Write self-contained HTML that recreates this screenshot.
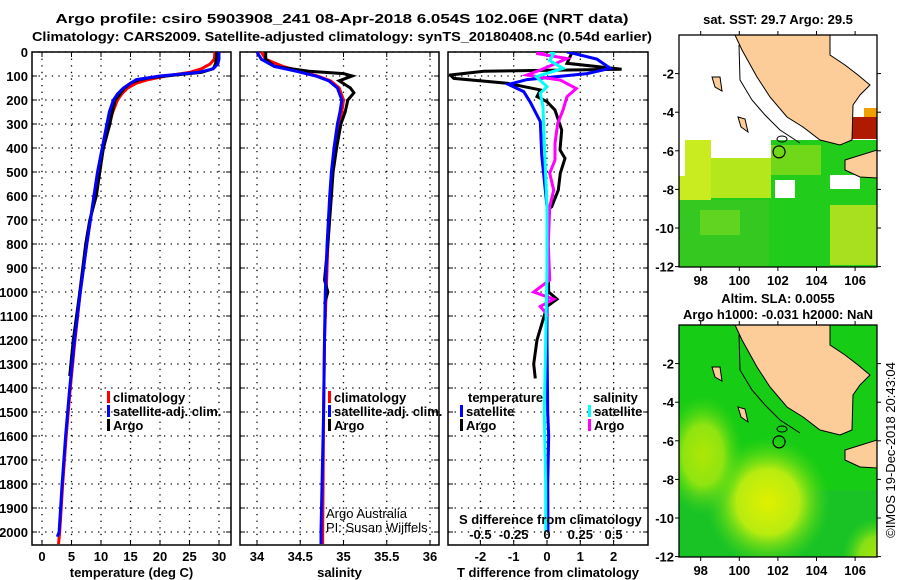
<!DOCTYPE html>
<html><head><meta charset="utf-8">
<style>
html,body{margin:0;padding:0;background:#fff;}
svg{display:block;font-family:"Liberation Sans",Arial,sans-serif;}
.t{font-weight:bold;font-size:13px;}
.tk{font-weight:bold;font-size:13px;}
</style></head>
<body>
<svg id="chart" width="900" height="580" viewBox="0 0 900 580" xmlns="http://www.w3.org/2000/svg">
<text class="t" x="342" y="23" text-anchor="middle" font-size="14" textLength="573" lengthAdjust="spacingAndGlyphs">Argo profile: csiro 5903908_241 08-Apr-2018 6.054S 102.06E (NRT data)</text>
<text class="t" x="342" y="41" text-anchor="middle" font-size="14" textLength="620" lengthAdjust="spacingAndGlyphs">Climatology: CARS2009. Satellite-adjusted climatology: synTS_20180408.nc (0.54d earlier)</text>
<g id="p1"></g>
<g id="p2"></g>
<g id="p3"></g>
<g id="m1"></g>
<g id="m2"></g>
<text x="0" y="0" font-size="13" transform="translate(895,450) rotate(-90)" text-anchor="middle">©IMOS 19-Dec-2018 20:43:04</text>
</svg>
<script>
// ---- data ----
const depthTicks = [0,100,200,300,400,500,600,700,800,900,1000,1100,1200,1300,1400,1500,1600,1700,1800,1900,2000];
const tempTicks = [0,5,10,15,20,25,30];
const salTicks = [34,34.5,35,35.5,36];
const tdiffTicks = [-2,-1,0,1,2];
const sdiffTickLabels = ['-0.5','-0.25','0','0.25','0.5'];
const sdiffTicks = [-0.5,-0.25,0,0.25,0.5];

const climTDepth = [0,30,50,70,85,100,115,130,150,175,200,250,300,400,500,600,700,800,1000,1200,1400,1600,1800,2000,2050];
const climT = [29.3,29.2,28.5,27,25,21,18,16,14.5,13.5,12.8,12,11.4,10.4,9.6,8.9,8.2,7.6,6.5,5.6,4.8,4.1,3.5,3.0,2.8];
const satTDepth = [0,30,50,70,85,100,115,130,150,175,200,250,300,400,500,600,700,800,1000,1200,1400,1600,1800,2000,2020];
const satT = [30,30,29.8,29,26.5,20,16,15,13.8,12.8,12.1,11.4,11.0,10.2,9.4,8.8,8.2,7.6,6.5,5.5,4.7,4.0,3.4,2.9,2.6];
const argoTDepth = [0,20,50,70,85,95,105,115,130,150,175,200,250,300,400,500,600,700,800,1000,1200,1350];
const argoT = [29.6,29.6,29.4,29,27,23,19,16.5,15,14,13.2,12.4,11.9,11.5,10.4,9.8,9.2,8.1,7.4,6.4,5.3,4.7];

const climSDepth = [0,30,60,80,100,120,150,200,250,300,400,500,600,800,1000,1200,1500,2000,2050];
const climS = [34.05,34.1,34.3,34.5,34.7,34.85,34.95,35.0,34.98,34.95,34.9,34.87,34.85,34.82,34.8,34.78,34.77,34.76,34.76];
const satS = [34.0,34.05,34.2,34.45,34.68,34.83,34.93,34.98,34.96,34.93,34.89,34.86,34.84,34.81,34.79,34.78,34.77,34.74,34.74];
const argoSDepth = [0,30,60,80,90,100,120,150,170,200,250,300,400,500,600,800,950,1000,1050];
const argoS = [34.1,34.1,34.2,34.6,35.0,35.1,34.95,35.08,35.12,35.05,35.02,34.97,34.92,34.88,34.86,34.82,34.78,34.82,34.78];

const tdArgoDepth = [0,6,47,72,80,96,110,130,158,186,207,242,325,408,443,505,575,645,658,800,1000,1030,1060,1200,1300,1360];
const tdArgo = [0.7,0.74,0.6,2.24,-1.9,-2.9,-2.8,-1.2,-0.2,-0.3,0,0.24,0.44,0.39,0.54,0.4,0.34,0.14,0,0.02,0.05,0.3,0,-0.3,-0.4,-0.35];
const tdSatDepth = [0,6,30,68,90,115,135,165,210,290,430,575,645,900,1200,1500,1600,1800,2000];
const tdSat = [0.6,0.8,1.5,1.9,1.2,-0.6,-1.16,-0.7,-0.5,-0.2,-0.16,-0.05,0,0,0,0.02,0.05,0.02,0.03];
const sdArgoDepth = [0,6,27,47,75,96,117,152,186,242,297,380,450,505,575,645,800,950,1000,1030,1060,1100];
const sdArgo = [-0.02,-0.08,0.15,0.07,-0.05,-0.15,0.1,0.22,0.15,0.12,0.08,0.06,0.06,0.02,0.05,0.02,0.01,0.02,-0.1,0.05,-0.05,0.01];
const sdSatDepth = [0,6,36,68,103,145,172,228,380,645,900,1200,1500,1800,2000];
const sdSat = [0.02,0.05,0.02,0.12,-0.08,0,-0.05,-0.03,-0.02,0,0,-0.01,-0.02,-0.01,-0.01];

const argoLon = 102.06, argoLat = -6.054;
const mapLonTicks = [98,100,102,104,106];
const mapLatTicks = [-2,-4,-6,-8,-10,-12];

// ---- helpers ----
const NS='http://www.w3.org/2000/svg';
function mk(parent,tag,attrs,text){const e=document.createElementNS(NS,tag);for(const k in attrs)e.setAttribute(k,attrs[k]);if(text!==undefined)e.textContent=text;parent.appendChild(e);return e;}
const pTop=52, pBot=545;
const yD = d => pTop + d*0.24;

function panel(g,x0,x1,xs,xticks,xlabels,title,name){
  depthTicks.forEach(d=>{
    const l=mk(g,'line',{x1:x0,x2:x1,y1:yD(d),y2:yD(d),stroke:'#000','stroke-width':1.3,'stroke-dasharray':'1.3,5.3'});
    
    
    mk(g,'line',{x1:x0,x2:x0+5,y1:yD(d),y2:yD(d),stroke:'#000'});
    mk(g,'line',{x1:x1-5,x2:x1,y1:yD(d),y2:yD(d),stroke:'#000'});
  });
  xticks.forEach((v,i)=>{
    const x=xs(v);
    const l=mk(g,'line',{x1:x,x2:x,y1:pTop,y2:pBot,stroke:'#000','stroke-width':1.3,'stroke-dasharray':'1.3,5.3'});
    
    
    mk(g,'line',{x1:x,x2:x,y1:pBot,y2:pBot-5,stroke:'#000','stroke-width':1});
    mk(g,'line',{x1:x,x2:x,y1:pTop,y2:pTop+5,stroke:'#000','stroke-width':1});
    const t=mk(g,'text',{x:x,y:561,'text-anchor':'middle',class:'tk'},xlabels[i]);
    
    
  });
  const f=mk(g,'rect',{x:x0,y:pTop,width:x1-x0,height:pBot-pTop,fill:'none',stroke:'#000','stroke-width':1.5});
  
  
  const tt=mk(g,'text',{x:(x0+x1)/2,y:577,'text-anchor':'middle',class:'t'},title);
  
  
}
function line(g,xs,vals,depths,color,name,w){
  const pts=vals.map((v,i)=>xs(v).toFixed(1)+','+yD(depths[i]).toFixed(1)).join(' ');
  const p=mk(g,'polyline',{points:pts,fill:'none',stroke:color,'stroke-width':w||3,'stroke-linejoin':'miter'});
  
  
}
function legend(g,x,y,color,label,name){
  mk(g,'rect',{x:x,y:y-11,width:3,height:12,fill:color});
  const t=mk(g,'text',{x:x+6,y:y,class:'t'},label);
  
  
}

// ---- panel 1 ----
const g1=document.getElementById('p1');
const xT = v => 42 + v*5.9;
depthTicks.forEach(d=>{
  const t=mk(g1,'text',{x:28,y:yD(d)+5,'text-anchor':'end',class:'tk'},String(d));
  
  
});
panel(g1,32,231,xT,tempTicks,tempTicks.map(String),'temperature (deg C)','temperature');
line(g1,xT,climT,climTDepth,'#ff0000','climatology-temperature-line');
line(g1,xT,argoT,argoTDepth,'#000000','argo-temperature-line');
line(g1,xT,satT,satTDepth,'#0000ff','satellite-temperature-line');
legend(g1,107,402,'#ff0000','climatology','legend-climatology');
legend(g1,107,416,'#0000ff','satellite-adj. clim.','legend-satellite');
legend(g1,107,430,'#000000','Argo','legend-argo');

// ---- panel 2 ----
const g2=document.getElementById('p2');
const xS = v => 257 + (v-34)*86.5;
panel(g2,240,439,xS,salTicks,salTicks.map(String),'salinity','salinity');
line(g2,xS,climS,climSDepth,'#ff0000','climatology-salinity-line');
line(g2,xS,argoS,argoSDepth,'#000000','argo-salinity-line');
line(g2,xS,satS,climSDepth,'#0000ff','satellite-salinity-line');
legend(g2,328,402,'#ff0000','climatology','legend-climatology-s');
legend(g2,328,416,'#0000ff','satellite-adj. clim.','legend-satellite-s');
legend(g2,328,430,'#000000','Argo','legend-argo-s');
const cr1=mk(g2,'text',{x:326,y:518,'font-size':13},'Argo Australia');


const cr2=mk(g2,'text',{x:326,y:532,'font-size':13},'PI: Susan Wijffels');



// ---- panel 3 ----
const g3=document.getElementById('p3');
const xTd = v => 547 + v*33.3;
const xSd = v => 547 + v*133.2;
panel(g3,448,648,xTd,tdiffTicks,tdiffTicks.map(String),'T difference from climatology','tdiff');
const d3=mk(g3,'defs',{});
const cp=mk(d3,'clipPath',{id:'c3'});
mk(cp,'rect',{x:449,y:pTop,width:198,height:pBot-pTop});
const gl=mk(g3,'g',{'clip-path':'url(#c3)'});
line(gl,xTd,tdArgo,tdArgoDepth,'#000000','argo-tdiff-line');
line(gl,xTd,tdSat,tdSatDepth,'#0000ff','satellite-tdiff-line');
line(gl,xSd,sdArgo,sdArgoDepth,'#ff00ff','argo-sdiff-line');
line(gl,xSd,sdSat,sdSatDepth,'#00ffff','satellite-sdiff-line');
const lh1=mk(g3,'text',{x:468,y:402,class:'t'},'temperature');


legend(g3,460,416,'#0000ff','satellite','legend-t-satellite');
legend(g3,460,430,'#000000','Argo','legend-t-argo');
const lh2=mk(g3,'text',{x:593,y:402,class:'t'},'salinity');


legend(g3,588,416,'#00ffff','satellite','legend-s-satellite');
legend(g3,588,430,'#ff00ff','Argo','legend-s-argo');
const sat=mk(g3,'text',{x:459,y:524,class:'t'},'S difference from climatology');


sdiffTicks.forEach((v,i)=>{
  const t=mk(g3,'text',{x:xSd(v),y:539,'text-anchor':'middle',class:'tk'},sdiffTickLabels[i]);
  
  
});

// ---- maps ----
function mapBase(y0){
  const x0=679,x1=877,y1=y0+232;
  const lx = lon => 681.4 + (lon-97)*19.3;
  const ly = lat => y0 - lat*19.3;
  return {x0,x1,y0,y1,lx,ly};
}
function mapFrame(g,m,name){
  const land='#fccc99';
  const sum=[[735,0],[830,0],[830,20],[845,30],[858,40],[870,50],[860,60],[853,70],[852,105],[840,110],[820,105],[803,92],[787,82],[770,62],[757,42],[742,15]];
  const p=mk(g,'polygon',{points:sum.map(a=>a[0]+','+(a[1]+m.y0)).join(' '),fill:land,stroke:'#000','stroke-width':1});
   
  const jav=[[845,125],[877,115],[877,143],[860,142],[845,135]];
  const q=mk(g,'polygon',{points:jav.map(a=>a[0]+','+(a[1]+m.y0)).join(' '),fill:land,stroke:'#000','stroke-width':1});
   
  mk(g,'polyline',{points:`739,${m.y0+10} 740,${m.y0+45} 752,${m.y0+65} 765,${m.y0+80} 780,${m.y0+95} 800,${m.y0+108}`,fill:'none',stroke:'#000'});
  mk(g,'polygon',{points:`712,${m.y0+42} 720,${m.y0+42} 722,${m.y0+56} 715,${m.y0+52}`,fill:land,stroke:'#000'});
  mk(g,'polygon',{points:`738,${m.y0+82} 745,${m.y0+84} 748,${m.y0+97} 741,${m.y0+92}`,fill:land,stroke:'#000'});
  mk(g,'ellipse',{cx:782,cy:m.y0+104,rx:5,ry:3,fill:'none',stroke:'#000'});
  const c=mk(g,'circle',{cx:m.lx(argoLon),cy:m.ly(argoLat),r:6,fill:'none',stroke:'#000','stroke-width':1.2});
   
  const f=mk(g,'rect',{x:m.x0,y:m.y0,width:m.x1-m.x0,height:m.y1-m.y0,fill:'none',stroke:'#000','stroke-width':1.3});
   
  mapLatTicks.forEach(v=>{
    const y=m.ly(v);
    mk(g,'line',{x1:m.x0-4,x2:m.x0,y1:y,y2:y,stroke:'#000'});
    mk(g,'line',{x1:m.x1,x2:m.x1+4,y1:y,y2:y,stroke:'#000'});
    const t=mk(g,'text',{x:674,y:y+5,'text-anchor':'end',class:'tk'},String(v));
     
  });
  mapLonTicks.forEach(v=>{
    const x=m.lx(v);
    mk(g,'line',{x1:x,x2:x,y1:m.y0-4,y2:m.y0,stroke:'#000'});
    mk(g,'line',{x1:x,x2:x,y1:m.y1,y2:m.y1+4,stroke:'#000'});
    const t=mk(g,'text',{x:x,y:m.y1+18,'text-anchor':'middle',class:'tk'},String(v));
     
  });
}
// SST map
const gm1=document.getElementById('m1');
const m1=mapBase(35);
const mt1=mk(gm1,'text',{x:778,y:24,'text-anchor':'middle',class:'t'},'sat. SST: 29.7 Argo: 29.5');


mk(gm1,'rect',{x:679,y:140,width:198,height:127,fill:'#22cc1a'});
mk(gm1,'rect',{x:679,y:140,width:32,height:60,fill:'#c8ec20'});
mk(gm1,'rect',{x:711,y:158,width:60,height:40,fill:'#b4e81c'});
mk(gm1,'rect',{x:771,y:145,width:50,height:30,fill:'#70d818'});
mk(gm1,'rect',{x:679,y:200,width:90,height:67,fill:'#34c820'});
mk(gm1,'rect',{x:830,y:205,width:47,height:60,fill:'#a8e020'});
mk(gm1,'rect',{x:700,y:210,width:40,height:25,fill:'#60d420'});
mk(gm1,'rect',{x:775,y:180,width:20,height:18,fill:'#fff'});
mk(gm1,'rect',{x:830,y:175,width:30,height:14,fill:'#fff'});
mk(gm1,'rect',{x:679,y:140,width:6,height:36,fill:'#fff'});
mk(gm1,'rect',{x:711,y:140,width:60,height:18,fill:'#fff'});
mk(gm1,'rect',{x:852,y:117,width:25,height:22,fill:'#b01a00'});
mk(gm1,'rect',{x:864,y:108,width:13,height:9,fill:'#f0a000'});
mapFrame(gm1,m1,'sst');
// SLA map
const gm2=document.getElementById('m2');
const m2=mapBase(325);
const mt2=mk(gm2,'text',{x:778,y:303,'text-anchor':'middle',class:'t'},'Altim. SLA: 0.0055');


const mt3=mk(gm2,'text',{x:778,y:319,'text-anchor':'middle',class:'t'},'Argo h1000: -0.031 h2000: NaN');


const defs=mk(gm2,'defs',{});
const rg=mk(defs,'radialGradient',{id:'gy'});
mk(rg,'stop',{offset:'0','stop-color':'#e0f000'});mk(rg,'stop',{offset:'0.5','stop-color':'#b8ec10'});mk(rg,'stop',{offset:'1','stop-color':'#50d81a','stop-opacity':0});
const mc=mk(defs,'clipPath',{id:'cm2'});
mk(mc,'rect',{x:679,y:325,width:198,height:232});
const gb=mk(gm2,'g',{'clip-path':'url(#cm2)'});
mk(gb,'rect',{x:679,y:325,width:198,height:232,fill:'#16cc14'});
mk(gb,'rect',{x:679,y:490,width:198,height:67,fill:'#1cbc30','opacity':0.6});
mk(gb,'ellipse',{cx:768,cy:502,rx:62,ry:65,fill:'url(#gy)'});
mk(gb,'ellipse',{cx:703,cy:455,rx:40,ry:60,fill:'url(#gy)',opacity:0.75});
mk(gb,'ellipse',{cx:877,cy:557,rx:35,ry:40,fill:'url(#gy)',opacity:0.7});
mapFrame(gm2,m2,'sla');
</script>
</body></html>
